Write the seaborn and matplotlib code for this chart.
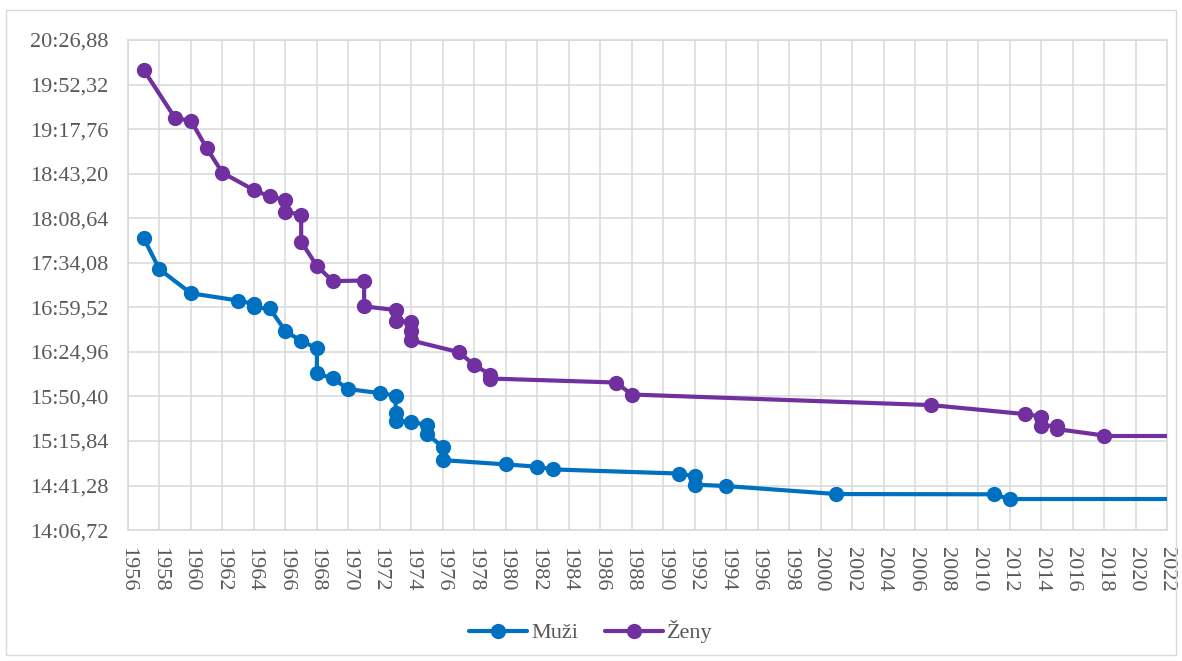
import numpy as np
import pandas as pd
import matplotlib
matplotlib.use("Agg")
import matplotlib.pyplot as plt
import seaborn as sns
from matplotlib.ticker import FuncFormatter, FixedLocator
from matplotlib.patches import Rectangle

# ------------------------
# DATA (years, times in seconds)
# ------------------------
muzi_roky = [1957, 1958, 1960, 1963, 1964, 1964, 1965, 1966, 1967, 1968, 1968,
             1969, 1970, 1972, 1973, 1973, 1973, 1974, 1975, 1975, 1976, 1976,
             1980, 1982, 1983, 1991, 1992, 1992, 1994, 2001, 2011, 2012]
muzi_cas = [1073.0, 1049.0, 1030.4, 1024.8, 1022.1, 1019.4, 1018.7, 1001.1,
            993.4, 987.9, 968.3, 964.4, 956.1, 953.0, 951.1, 937.3, 931.3,
            930.8, 928.2, 921.2, 911.1, 901.0, 897.7, 895.9, 893.8, 890.6,
            888.6, 882.0, 880.9, 874.7, 874.5, 870.8]

zeny_roky = [1957, 1959, 1960, 1961, 1962, 1964, 1965, 1966, 1966, 1967, 1967,
             1968, 1969, 1971, 1971, 1973, 1973, 1974, 1974, 1974, 1977, 1978,
             1979, 1979, 1987, 1988, 2007, 2013, 2014, 2014, 2015, 2015, 2018]
zeny_cas = [1203.6, 1166.2, 1164.3, 1142.9, 1123.9, 1110.5, 1105.5, 1102.8,
            1093.5, 1091.5, 1070.4, 1051.6, 1039.9, 1040.3, 1020.3, 1017.4,
            1009.3, 1008.3, 1001.1, 993.8, 984.8, 974.8, 967.4, 964.3, 961.2,
            951.9, 943.7, 936.7, 934.8, 927.8, 927.6, 925.1, 920.1]

konec_roku = 2022
y_min, y_krok, y_pocet = 846.72, 34.56, 12

# ------------------------
# PLOT
# ------------------------
sns.set_theme(style="whitegrid")
plt.rcParams["font.family"] = ["Liberation Serif", "DejaVu Serif"]

fig = plt.figure(figsize=(11.82, 6.61), dpi=100)
ax = fig.add_axes([0.1083, 0.198, 0.879, 0.7415])

serie = [("Muži", muzi_roky, muzi_cas, "#0070C0"),
         ("Ženy", zeny_roky, zeny_cas, "#7030A0")]

for nazev, roky, casy, barva in serie:
    df = pd.DataFrame({"rok": roky, "cas": casy})
    sns.lineplot(data=df, x="rok", y="cas", ax=ax, sort=False, estimator=None,
                 color=barva, linewidth=3, marker="o", markersize=11,
                 markeredgewidth=0, label=nazev, zorder=3)
    # last record carried to the end of the axis
    sns.lineplot(x=[roky[-1], konec_roku], y=[casy[-1], casy[-1]], ax=ax,
                 color=barva, linewidth=3, legend=False, zorder=3)


def fmt_cas(v, pos):
    m = int(v // 60)
    s = v - m * 60
    return f"{m}:{s:05.2f}".replace(".", ",")


yticks = [y_min + y_krok * k for k in range(y_pocet)]
ax.set_ylim(yticks[0], yticks[-1])
ax.yaxis.set_major_locator(FixedLocator(yticks))
ax.yaxis.set_major_formatter(FuncFormatter(fmt_cas))

ax.set_xlim(1956, konec_roku)
ax.set_xticks(range(1956, konec_roku + 1, 2))
plt.setp(ax.get_xticklabels(), rotation=-90)

ax.set_xlabel("")
ax.set_ylabel("")
ax.grid(True, color="#d9d9d9", linewidth=1.1)
for sp in ax.spines.values():
    sp.set_color("#d9d9d9")
    sp.set_linewidth(1.1)
ax.tick_params(axis="both", length=0, labelsize=16, labelcolor="#595959")
ax.tick_params(axis="y", pad=14)
ax.tick_params(axis="x", pad=12)

h, l = ax.get_legend_handles_labels()
ax.legend(h, l, loc="center", bbox_to_anchor=(0.5, 0.044),
          bbox_transform=fig.transFigure, ncol=2, frameon=False,
          fontsize=16, labelcolor="#595959", handlelength=2.6,
          handletextpad=0.2, columnspacing=1.2)

fig.patches.append(Rectangle((6 / 1182, 6 / 661), 1170 / 1182, 645 / 661,
                             transform=fig.transFigure, fill=False,
                             edgecolor="#d9d9d9", linewidth=1))

fig.savefig("out.png", dpi=100)
